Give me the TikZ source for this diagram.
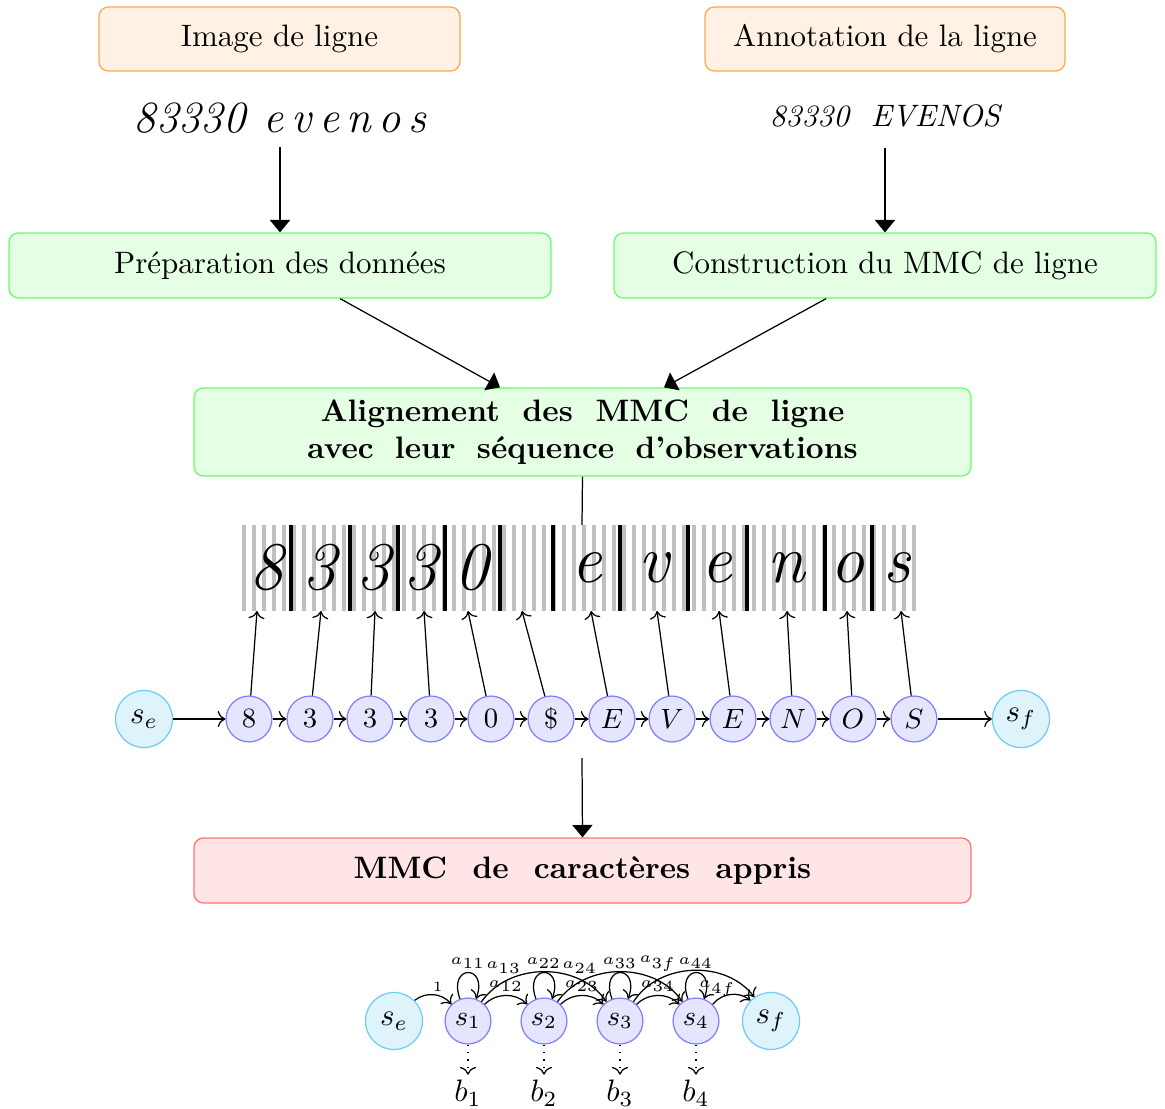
\documentclass[tikz,border=0pt]{standalone}
\usetikzlibrary{arrows.meta}
\definecolor{endfill}{RGB}{223,243,250}
\definecolor{enddraw}{RGB}{110,205,240}
\begin{document}
\begin{tikzpicture}[x=0.3226pt,y=-0.3226pt,
  box/.style={rounded corners=3pt, align=center, inner sep=0pt},
  orangebox/.style={box, draw=orange!70, fill=orange!10},
  greenbox/.style={box, draw=green!60, fill=green!10},
  redbox/.style={box, draw=red!55, fill=red!10},
  state/.style={circle, draw=blue!50, fill=blue!10, minimum size=14.8pt, inner sep=0pt, font=\small},
  endstate/.style={circle, draw=enddraw, fill=endfill, minimum size=18.4pt, inner sep=0pt},
  bigarrow/.style={-{Triangle[width=6.5pt,length=4pt]}},
  lab/.style={font=\fontsize{4.6}{5}\selectfont, inner sep=1pt},
  hand/.style={font=\fontsize{22}{22}\selectfont\itshape, inner sep=0pt},
  looparc/.style={->, out=110, in=70, min distance=12pt, looseness=1}
]
\useasboundingbox (0,0) rectangle (1165,1109);

% top boxes
\node[orangebox, minimum width=361*0.3226pt, minimum height=64*0.3226pt] (img) at (279.5,39) {Image de ligne};
\node[orangebox, minimum width=360*0.3226pt, minimum height=64*0.3226pt] (ann) at (885,39) {Annotation de la ligne};

\node[font=\Large\itshape] (hw) at (280,118) {83330\hspace{6pt}e\,v\,e\,n\,o\,s};
\node[font=\itshape] (ann2) at (885,116) {83330\hspace{7pt}EVENOS};

\node[greenbox, minimum width=542*0.3226pt, minimum height=65*0.3226pt] (prep) at (280,265.5) {Préparation des données};
\node[greenbox, minimum width=542*0.3226pt, minimum height=65*0.3226pt] (cons) at (885,265.5) {Construction du MMC de ligne};

\draw[bigarrow] ([yshift=-1pt]hw.south) -- (prep.north);
\draw[bigarrow] ([yshift=-3pt]ann2.south) -- (cons.north);

\node[greenbox, minimum width=777*0.3226pt, minimum height=88*0.3226pt] (align) at (582.5,432)
  {\bfseries\makebox[169pt][s]{Alignement des MMC de ligne}\\
   \bfseries\makebox[177.5pt][s]{avec leur séquence d'observations}};

\draw[bigarrow] ([xshift=19.4pt]prep.south) -- ([xshift=-26.6pt]align.north);
\draw[bigarrow] ([xshift=-19pt]cons.south) -- ([xshift=26.3pt]align.north);

% observation strip
\foreach \x in {244,254,...,922} \draw[gray!50, line width=1pt] (\x,525) -- (\x,611);
\foreach \x in {291,350,398,445,500,553,620,688,747,825,872} \draw[black, line width=1.1pt] (\x,525) -- (\x,611);
\foreach \c/\x in {8/267,3/320,3/374,3/421,0/472,e/587,v/654,e/717,n/786,o/848,s/897}
  \node[hand] at (\x,568) {\c};
\coordinate (striptop) at (582,525);
\draw (align.south) -- (striptop);

% chain
\node[endstate] (se) at (144,719) {$s_e$};
\node[endstate] (sf) at (1021,719) {$s_f$};
\foreach \i/\x/\t/\lab in {1/249/257/8, 2/310/321/3, 3/370/375/3, 4/431/424/3, 5/491/468/0, 6/551/522/\$,
  7/612/591/$E$, 8/672/657/$V$, 9/733/719/$E$, 10/793/787/$N$, 11/853/847/$O$, 12/914/901/$S$} {
  \node[state] (c\i) at (\x,719) {\lab};
  \coordinate (t\i) at (\t,611);
  \draw[->] (c\i) -- (t\i);
}
\draw[->] (se) -- (c1);
\foreach \i [evaluate=\i as \j using int(\i+1)] in {1,...,11} \draw[->] (c\i) -- (c\j);
\draw[->] (c12) -- (sf);

\coordinate (chainout) at (582,758);
\node[redbox, minimum width=777*0.3226pt, minimum height=65*0.3226pt] (learned) at (582.5,870.5)
  {\bfseries\makebox[147.6pt][s]{MMC de caractères appris}};
\draw[bigarrow] (chainout) -- (learned.north);

% small HMM
\node[endstate] (se2) at (394,1021) {$s_e$};
\node[state] (s1) at (468,1021) {$s_1$};
\node[state] (s2) at (544,1021) {$s_2$};
\node[state] (s3) at (620,1021) {$s_3$};
\node[state] (s4) at (696,1021) {$s_4$};
\node[endstate] (sf2) at (771,1021) {$s_f$};
\foreach \i/\x in {1/468,2/544,3/620,4/696} {
  \node[inner sep=1.5pt] (b\i) at (\x,1093) {$b_\i$};
  \draw[->, dotted] (s\i) -- (b\i);
}
\draw[->] (se2) to[bend left=45] node[lab, above, pos=0.6] {1} (s1);
\draw[looparc] (s1) to node[lab, above] {$a_{11}$} (s1);
\draw[looparc] (s2) to node[lab, above] {$a_{22}$} (s2);
\draw[looparc] (s3) to node[lab, above] {$a_{33}$} (s3);
\draw[looparc] (s4) to node[lab, above] {$a_{44}$} (s4);
\draw[->] (s1) to[bend left=45] node[lab, above] {$a_{12}$} (s2);
\draw[->] (s2) to[bend left=45] node[lab, above] {$a_{23}$} (s3);
\draw[->] (s3) to[bend left=45] node[lab, above] {$a_{34}$} (s4);
\draw[->] (s1) to[bend left=55] node[lab, above=1.5pt, pos=0.21] {$a_{13}$} (s3);
\draw[->] (s2) to[bend left=55] node[lab, above=1.5pt, pos=0.21] {$a_{24}$} (s4);
\draw[->] (s3) to[bend left=55] node[lab, above=1.5pt, pos=0.24] {$a_{3f}$} (sf2);
\draw[->] (s4) to[bend left=45] node[lab, above, pos=0.15] {$a_{4f}$} (sf2);
\end{tikzpicture}
\end{document}
